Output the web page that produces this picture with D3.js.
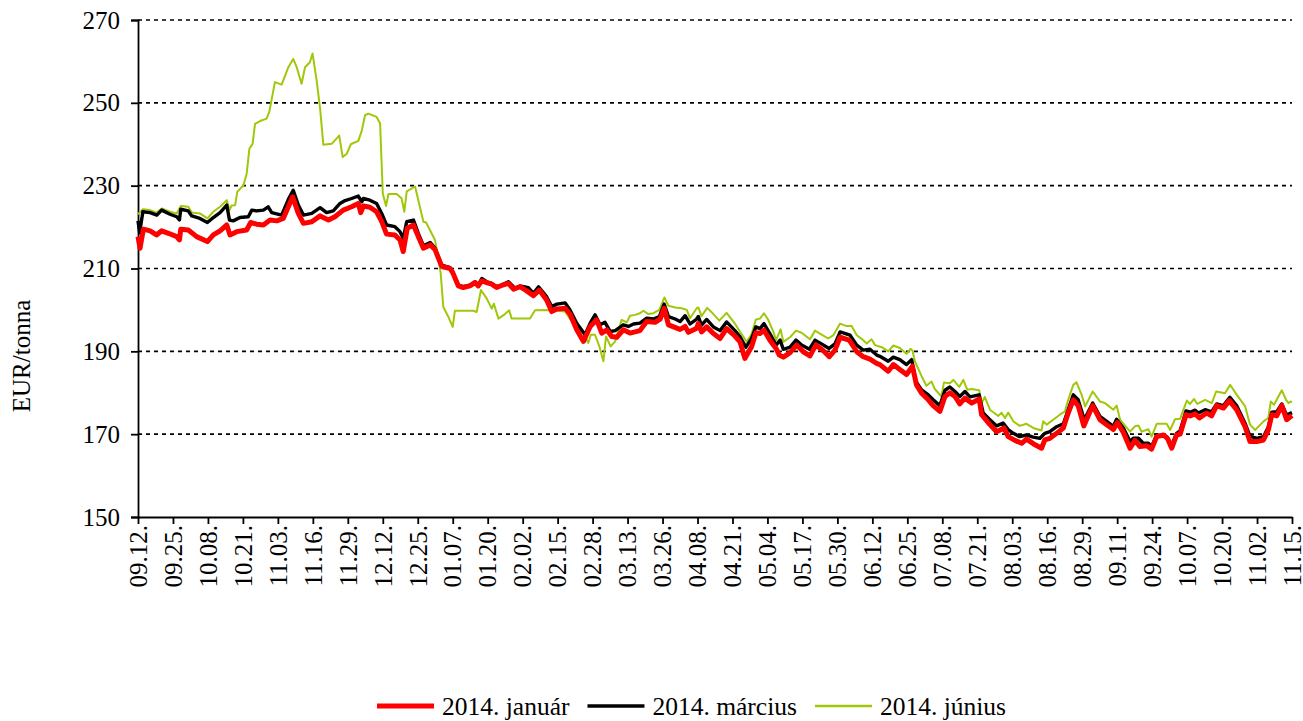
<!DOCTYPE html>
<html>
<head>
<meta charset="utf-8">
<script src="https://cdn.jsdelivr.net/npm/d3@7"></script>
<style>
body { margin: 0; background: #fff; }
text { font-family: "Liberation Serif", "Times New Roman", serif; fill: #000; }
</style>
</head>
<body>
<svg id="chart" width="1303" height="721"></svg>
<script>
// first day of the series, points are [days since startDate, EUR/tonna]
const startDate = '2012-09-12';
const endDate = '2013-11-15';

const tickDates = ['2012-09-12','2012-09-25','2012-10-08','2012-10-21','2012-11-03','2012-11-16',
  '2012-11-29','2012-12-12','2012-12-25','2013-01-07','2013-01-20','2013-02-02','2013-02-15',
  '2013-02-28','2013-03-13','2013-03-26','2013-04-08','2013-04-21','2013-05-04','2013-05-17',
  '2013-05-30','2013-06-12','2013-06-25','2013-07-08','2013-07-21','2013-08-03','2013-08-16',
  '2013-08-29','2013-09-11','2013-09-24','2013-10-07','2013-10-20','2013-11-02','2013-11-15'];

const yTicks = [150, 170, 190, 210, 230, 250, 270];

const seriesNames = ['2014. január', '2014. március', '2014. június'];

const januar = [[0,217.7],[0.75,214.9],[2,219.5],[4.5,219.1],[6.9,218.1],[8.8,219.1],[11.3,218.5],[14.4,217.7],[15.4,216.9],[15.9,219.5],[18.7,219.3],[21.8,217.7],[25.8,216.5],[28,218.1],[30.5,219.1],[33,220.5],[34.2,218.1],[36.7,218.9],[40.4,219.3],[41.9,221.1],[44.1,220.7],[46.6,220.5],[49.1,221.7],[51.6,221.5],[54,222.1],[57.5,227.3],[59.6,223.3],[61.5,220.9],[64.6,221.3],[67.7,222.7],[70.8,221.7],[73.2,222.5],[76.3,224.1],[79.4,224.9],[81.9,225.7],[82.8,223.5],[83.8,225.1],[86.2,224.8],[88.7,223.7],[90.6,221.3],[92.4,218.3],[95.5,218.1],[97.4,216.9],[98.6,214.1],[100.1,219.7],[102.4,220.5],[104.2,217.7],[106.1,214.9],[108.6,215.7],[110.4,214.6],[112.9,210.5],[116,210],[117,209],[119.1,205.8],[120.9,205.4],[123.4,205.8],[125.3,206.6],[126.5,205.8],[127.8,207],[129.6,206.6],[131.5,206.2],[133.3,205.4],[135.2,205.9],[137.7,206.4],[139.6,205],[142,205.6],[144.5,204.6],[147,203.4],[149.2,204.8],[151.9,202.4],[153.8,199.6],[155.7,200.2],[158.8,200.4],[160.6,199],[163.1,195.2],[165.6,192.4],[168.1,196],[170.5,197.6],[172.4,194.4],[174.3,195.2],[176.1,193.6],[178,193.4],[180.4,195.2],[182.9,194.4],[186.6,195],[189.1,197.2],[192.2,197],[194.1,197.8],[195.6,200.4],[197.2,196.4],[201.5,195.3],[203.4,196],[204.6,194.6],[207.7,195.6],[208.3,196.7],[209.5,194.7],[211.4,195.9],[213.9,194.3],[216.4,193.1],[218.8,195.5],[221.9,193.7],[223.8,192.3],[225.6,188.3],[228.1,191.1],[229.7,194.5],[231.2,194.3],[232.7,195.1],[234.9,192.7],[237.2,190.7],[238.4,189.1],[239.9,188.6],[242.4,189.7],[244.9,191.5],[247.3,189.9],[249.8,188.9],[252,191.5],[254.5,190.3],[257,188.7],[259.1,190.3],[261,193.4],[264.4,192.7],[267.2,189.9],[269.6,188.7],[272.1,188.1],[274.6,187.1],[275.8,186.8],[278.9,185.2],[280.8,186.8],[283.2,185.6],[285.7,184.4],[287.9,186.4],[289.4,181.9],[291.3,179.9],[293.8,178.3],[295.6,176.9],[298.1,175.5],[300,179.1],[301.8,180],[303.7,179.1],[305.5,177.3],[307.4,178.7],[309.9,177.5],[312.7,178.5],[313.6,174.7],[316.7,172.3],[319.2,170.6],[321.9,171.5],[323.5,169.4],[326,168.5],[328.5,167.8],[330.3,168.8],[332.8,167.7],[335.9,166.6],[337.1,168.6],[339,169],[341.5,170.2],[344,171.5],[345.8,175.1],[347.7,178.3],[349.5,176.9],[351.6,172],[354.9,176.9],[357.6,173.5],[360.1,172.3],[362.6,171.1],[364.1,172.8],[366.3,170.4],[368.8,166.6],[370.6,168.5],[372.5,167],[375,167.2],[376.8,166.4],[378.7,169.4],[381.2,169.8],[382.7,169],[384.3,166.6],[386.1,169.8],[387.4,170],[389.6,174.7],[391.1,174.4],[393,174.9],[394.6,173.9],[397.3,175.1],[399.1,174.4],[401,176.9],[403.5,176.3],[405.7,178.1],[408.4,175.9],[411.5,171.9],[413.4,168.2],[415.9,168.2],[418.4,168.6],[420.2,171],[421.5,174.7],[423.3,174.4],[425.2,176.9],[427,173.5],[429,174.5]];

const marcius = [[0,221.5],[0.6,218.6],[1.8,223.7],[4.5,223.5],[7,222.9],[8.8,224.1],[11.9,223.1],[14.4,222.5],[15.4,221.7],[15.9,224.3],[18.7,223.9],[20,222.7],[23,222.1],[25.8,221.1],[28,222.3],[30.5,223.5],[33,225.3],[34,221.7],[35.4,221.5],[37.9,222.3],[41,222.5],[42.3,224.1],[44.1,223.9],[46.6,224.1],[48.4,224.9],[49.7,223.5],[53.4,222.9],[55.9,226.7],[57.7,228.9],[59.6,225.3],[61.5,222.9],[64.6,223.3],[67.7,224.7],[70.1,223.5],[72.6,223.9],[75.1,225.7],[77,226.4],[79.4,226.9],[81.9,227.5],[83.2,226.1],[83.8,226.9],[86.2,226.5],[88.7,225.7],[90.6,223.3],[92.4,220.5],[95.5,220.1],[97.4,218.9],[98.6,217.3],[99.9,221.3],[102.4,221.7],[104.2,218.5],[106.1,215.5],[108.6,216.3],[110.4,214.9],[112.9,210.8],[116,210.2],[117,209.2],[119.1,206],[120.9,205.6],[123.4,206],[125.3,206.8],[126.5,206],[127.8,207.6],[129.6,206.8],[131.5,206.4],[133.3,205.6],[135.2,206],[137.7,206.8],[140.2,205.2],[142,205.8],[145.1,205.4],[147,204],[148.9,205.6],[151.9,203.2],[153.8,200.8],[155.7,201.4],[158.8,201.7],[160.6,200],[163.1,196.8],[166.2,194],[168.1,196.8],[169.9,198.8],[171.8,196.4],[173.6,197],[175.5,194.8],[177.4,195],[180.4,196.4],[182.3,196],[184.2,196.6],[186.6,196.8],[189.1,198],[191.6,197.8],[193.8,198.4],[195.6,201.4],[197.2,198.4],[199.7,197.8],[201.5,197.2],[203.4,198.6],[205.2,196.6],[207.7,197.8],[208.3,198.4],[209.5,196.3],[211.4,197.7],[213.9,195.9],[216.4,195],[218.8,197.1],[221.9,195],[223.8,193.5],[226,191],[228.1,193.1],[229.7,195.9],[231.2,195.5],[232.7,196.7],[234.9,194.3],[237.2,191.5],[238.7,192.7],[239.9,190.5],[242.4,191],[244.6,192.7],[246.7,191.5],[249.6,190.5],[251.7,192.7],[254.1,191.8],[256.9,190.7],[259.1,191.8],[261,194.7],[264.7,193.9],[267.2,191.5],[269.6,190.3],[272.1,190.5],[274.6,189.1],[275.8,188.8],[278.9,187.6],[280.8,188.6],[283.2,188],[285.7,186.8],[287.6,188],[289.2,182.7],[291.3,180.7],[293.8,179.5],[295.6,178.3],[298.1,176.9],[300,180.6],[301.8,181.4],[303.7,180.3],[305.5,179.1],[307.4,180.3],[309.3,179],[312.7,179.5],[314.2,175.1],[316.7,173.5],[319.2,172],[321.6,172.7],[323.5,171.1],[325.4,170.2],[327.8,169.4],[330.3,169.8],[332.8,169.3],[335.3,169],[337.1,170.2],[339,170.6],[341.5,171.8],[344,172.5],[345.8,175.9],[347.7,179.5],[349.5,178.3],[351.8,173.5],[354.9,177.5],[357.6,174.3],[360.1,173.1],[362.6,171.9],[363.8,173.6],[366.3,171.5],[368.8,168.2],[370,169],[371.9,169],[373.7,167.8],[375.6,167.8],[376.8,167],[378.7,169.8],[382.4,169.4],[384.3,167.4],[386.1,170.2],[387.4,170.8],[389.6,175.6],[391.1,175.3],[393,175.8],[394.2,175.1],[396.7,175.9],[399.1,175.4],[401,177.3],[403.5,176.9],[405.9,178.9],[408.4,176.9],[411.5,172.7],[413.4,169.5],[415.9,169],[418.4,169.4],[420.2,171.7],[421.5,175.3],[423.3,175.4],[425.2,177.3],[427,174.6],[429,175.2]];

const junius = [[0,223.1],[1.8,224.3],[4.5,224.1],[6.9,223.5],[8.8,224.5],[11.9,223.7],[14.4,223.3],[15.9,225.1],[18.7,224.9],[20,223.5],[23,223.3],[25.8,222.1],[28,223.7],[30.5,224.9],[33,226.5],[34,224.1],[34.8,225.2],[36.1,225.3],[36.9,228.5],[39.2,230.1],[40.4,232.9],[41.4,238.9],[42.6,240.1],[43.5,244.9],[45.4,245.6],[47.8,246.2],[48.8,247.8],[50.9,255],[53.4,254.4],[55.9,258.6],[57.7,260.6],[59,258.6],[60.8,254.6],[62.1,258.6],[63.9,259.8],[64.9,261.9],[66.4,255.4],[67.7,248.6],[68.9,239.9],[72,240.1],[74.8,242.1],[76.1,236.9],[77.6,237.7],[79.1,240],[81.9,240.8],[83.2,243.3],[84.4,247],[85.6,247.4],[88.7,246.6],[90,245],[91,228.1],[92.2,225.1],[93.1,228],[96.2,228],[98,226.9],[99,223.7],[99.9,228.6],[103,229.8],[106.1,221.3],[107.1,221.1],[110.4,216.9],[111.5,213],[112.5,209],[113.5,200.7],[115.4,198.3],[117,195.9],[117.8,199.8],[124.7,199.8],[125.9,199.5],[127.5,204.8],[129.6,202.8],[131.5,200.3],[132.3,201.5],[134,197.9],[136.4,199],[138,199.9],[138.9,197.9],[145.7,197.9],[147.6,199.9],[153.2,200],[158.8,199.6],[162.5,196],[165.6,194.4],[167.4,192],[168.3,194],[169.9,194],[171.5,191.2],[173,187.6],[174,193.6],[175.7,191.2],[177.4,192.4],[179.8,197.6],[181.7,197],[182.9,198.6],[184.8,198.8],[186.6,199.2],[187.9,199.8],[189.7,199],[191.6,199.2],[193.8,200],[195.7,203],[197.2,201],[199.7,200.6],[202.1,200.4],[204,200],[205.2,198],[207.7,200.4],[208.3,200.6],[209.5,198.5],[211.6,200.5],[213.9,199],[216.1,197.4],[218.8,199.3],[221.9,196.7],[223.8,194.7],[226.3,192.3],[228.1,194.2],[229.7,197.7],[231.2,197.9],[232.7,199.2],[234.3,197.6],[236.2,194.7],[237.2,192.7],[238.9,195.3],[239.9,192.3],[242.4,193.4],[244.6,195],[246.7,194.5],[249.8,192.9],[251.7,195],[253.5,194.3],[256.6,193.1],[258.5,193.9],[261,196.7],[263.4,196.1],[265.3,196.1],[267.2,193.9],[269.6,192.7],[270.9,191.9],[272.7,192.9],[274,191.5],[276.5,191],[278.9,190],[280.8,191.4],[283.2,190.8],[285.7,189.4],[287.2,190.6],[287.9,190.2],[288.8,187.6],[291.3,184],[293.1,181.7],[295,182.7],[296.2,180.9],[298.7,179.1],[299.6,182.5],[301.8,182.3],[303.1,183.1],[305.3,181.4],[306.8,183.1],[308.3,180.7],[309.9,180.9],[312.7,180.6],[313.6,177.5],[314.8,179],[316.7,175.9],[319.8,174.4],[321,175.2],[322.3,173.9],[323.5,175.2],[325.4,173.1],[327.8,172],[330.3,172.5],[332.8,171.5],[335.9,170.9],[336.5,173.1],[337.8,172.3],[340.2,173.5],[342.7,174.7],[344.6,175.5],[345.8,178.3],[347.7,181.9],[348.9,182.5],[350.8,179.5],[352.1,176.7],[354.9,180.3],[357.6,177.9],[359.5,177.5],[362.6,175.9],[363.8,176.9],[365.1,173.5],[368.8,170.6],[370.6,171.9],[371.9,172.1],[373.1,170.6],[375.6,171.2],[376.8,169.4],[378.7,172.5],[382.4,172.5],[383.7,171],[385.5,173.6],[387.4,173.7],[389.9,178.1],[391.1,177.3],[392.6,178.5],[393.8,177.3],[396.7,178.3],[399.2,177.5],[400.8,180.3],[404.1,179.9],[406,181.9],[408.5,179.5],[411.6,176.7],[413.4,172.3],[415.3,171],[418.4,173.1],[420.2,173.9],[421.1,177.9],[422.3,177.1],[425.2,180.6],[426.8,178.3],[427.7,177.5],[428.5,177.9],[429,177.7]];

const width = 1303;
const height = 721;
const margin = {top: 20, right: 11, bottom: 204, left: 138};

const parseDate = d3.utcParse('%Y-%m-%d');
const fmtTick = d3.utcFormat('%m.%d.');
const start = parseDate(startDate);

function toDate(day) {
  return new Date(start.getTime() + day * 864e5);
}

const svg = d3.select('#chart');

const x = d3.scaleUtc()
  .domain([start, parseDate(endDate)])
  .range([margin.left, width - margin.right]);

const y = d3.scaleLinear()
  .domain([150, 270])
  .range([height - margin.bottom, margin.top]);

// dotted gridlines
svg.append('g')
  .selectAll('line')
  .data(yTicks.filter(v => v > 150))
  .join('line')
  .attr('x1', margin.left)
  .attr('x2', width - margin.right)
  .attr('y1', d => y(d))
  .attr('y2', d => y(d))
  .attr('stroke', '#000')
  .attr('stroke-width', 1.6)
  .attr('stroke-dasharray', '4,4');

// y axis
const yAxis = d3.axisLeft(y)
  .tickValues(yTicks)
  .tickSize(7)
  .tickPadding(11);

const ay = svg.append('g')
  .attr('transform', `translate(${margin.left},0)`)
  .call(yAxis);
ay.select('.domain').attr('stroke-width', 1.8);
ay.selectAll('.tick line').attr('stroke-width', 1.8);
ay.selectAll('text')
  .style('font-size', '25px')
  .style('font-family', '"Liberation Serif", serif');

// x axis
const xAxis = d3.axisBottom(x)
  .tickValues(tickDates.map(parseDate))
  .tickFormat(fmtTick)
  .tickSize(7)
  .tickSizeOuter(0);

const ax = svg.append('g')
  .attr('transform', `translate(0,${height - margin.bottom})`)
  .call(xAxis);
ax.select('.domain').attr('stroke-width', 1.8);
ax.selectAll('.tick line').attr('stroke-width', 1.8);
ax.selectAll('text')
  .style('font-size', '25px')
  .style('font-family', '"Liberation Serif", serif')
  .attr('text-anchor', 'end')
  .attr('dy', '0.33em')
  .attr('transform', 'translate(0,8) rotate(-90)')
  .attr('x', 0)
  .attr('y', 0);

// axis title
svg.append('text')
  .attr('transform', 'translate(30,356) rotate(-90)')
  .attr('text-anchor', 'middle')
  .style('font-size', '25px')
  .text('EUR/tonna');

// lines
const line = d3.line()
  .x(d => x(toDate(d[0])))
  .y(d => y(d[1]));

const series = [
  {name: seriesNames[2], data: junius, color: '#a0c80a', w: 2},
  {name: seriesNames[1], data: marcius, color: '#000000', w: 3.4},
  {name: seriesNames[0], data: januar, color: '#ff0000', w: 5}
];

svg.append('g')
  .selectAll('path')
  .data(series)
  .join('path')
  .attr('d', d => line(d.data))
  .attr('fill', 'none')
  .attr('stroke', d => d.color)
  .attr('stroke-width', d => d.w)
  .attr('stroke-linejoin', 'round');

// legend
const legendItems = series.slice().reverse();
const legend = svg.append('g').attr('transform', 'translate(377,706)');
let lx = 0;
legendItems.forEach(function(s) {
  legend.append('line')
    .attr('x1', lx).attr('x2', lx + 57)
    .attr('y1', 0).attr('y2', 0)
    .attr('stroke', s.color)
    .attr('stroke-width', s.w === 2 ? 2.5 : s.w);
  const t = legend.append('text')
    .attr('x', lx + 65)
    .attr('y', 0)
    .attr('dy', '0.35em')
    .style('font-size', '25.5px')
    .text(s.name);
  lx += 65 + t.node().getComputedTextLength() + 18;
});
</script>
</body>
</html>
